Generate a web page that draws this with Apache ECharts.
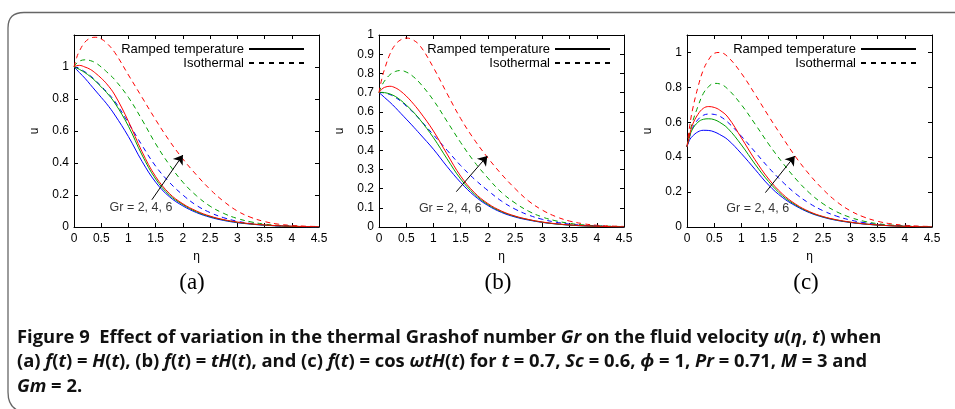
<!DOCTYPE html>
<html>
<head>
<meta charset="utf-8">
<script src="https://cdn.jsdelivr.net/npm/echarts@6/dist/echarts.min.js"></script>
<style>
  html, body { margin: 0; padding: 0; background: #fff; }
  #chart { width: 955px; height: 409px; }
</style>
</head>
<body>
<div id="chart"></div>
<script>
// eta sample points shared by all curves
const eta = [0, 0.05, 0.1, 0.2, 0.3, 0.4, 0.5, 0.6, 0.75, 1, 1.25, 1.5, 1.75, 2, 2.25, 2.5, 2.75, 3, 3.25, 3.5, 3.75, 4, 4.25, 4.5];

// (a) f(t) = H(t)
const aRampGr2 = [1.0, 0.983, 0.965, 0.93, 0.89, 0.85, 0.81, 0.77, 0.7, 0.565, 0.41, 0.28, 0.19, 0.132, 0.09, 0.061, 0.041, 0.027, 0.018, 0.011, 0.007, 0.004, 0.002, 0.001];
const aRampGr4 = [1.0, 0.993, 0.985, 0.965, 0.94, 0.91, 0.875, 0.84, 0.775, 0.63, 0.45, 0.3, 0.2, 0.14, 0.095, 0.065, 0.044, 0.029, 0.019, 0.012, 0.007, 0.004, 0.002, 0.001];
const aRampGr6 = [1.0, 1.008, 1.01, 1.0, 0.985, 0.96, 0.93, 0.895, 0.825, 0.66, 0.47, 0.315, 0.21, 0.145, 0.1, 0.068, 0.046, 0.031, 0.02, 0.013, 0.008, 0.005, 0.003, 0.002];
const aIsoGr2 = [1.0, 0.997, 0.99, 0.97, 0.945, 0.915, 0.88, 0.845, 0.785, 0.65, 0.51, 0.38, 0.28, 0.2, 0.135, 0.09, 0.058, 0.036, 0.022, 0.013, 0.007, 0.004, 0.002, 0.001];
const aIsoGr4 = [1.0, 1.025, 1.037, 1.045, 1.04, 1.025, 1.0, 0.97, 0.92, 0.81, 0.67, 0.52, 0.39, 0.28, 0.195, 0.13, 0.085, 0.053, 0.032, 0.018, 0.01, 0.006, 0.003, 0.002];
const aIsoGr6 = [1.0, 1.06, 1.1, 1.155, 1.18, 1.186, 1.175, 1.15, 1.09, 0.95, 0.81, 0.67, 0.54, 0.425, 0.325, 0.235, 0.16, 0.1, 0.06, 0.034, 0.018, 0.01, 0.005, 0.003];

// (b) f(t) = tH(t)
const bRampGr2 = [0.7, 0.688, 0.675, 0.65, 0.622, 0.592, 0.562, 0.532, 0.485, 0.405, 0.315, 0.232, 0.163, 0.112, 0.076, 0.052, 0.036, 0.024, 0.016, 0.01, 0.006, 0.004, 0.002, 0.001];
const bRampGr4 = [0.7, 0.701, 0.7, 0.693, 0.68, 0.66, 0.635, 0.608, 0.56, 0.465, 0.355, 0.25, 0.172, 0.117, 0.08, 0.055, 0.038, 0.025, 0.016, 0.01, 0.006, 0.004, 0.002, 0.001];
const bRampGr6 = [0.7, 0.717, 0.727, 0.733, 0.725, 0.707, 0.682, 0.652, 0.6, 0.5, 0.38, 0.265, 0.18, 0.122, 0.083, 0.057, 0.039, 0.026, 0.017, 0.011, 0.007, 0.004, 0.002, 0.001];
const bIsoGr2 = [0.7, 0.7, 0.698, 0.69, 0.675, 0.655, 0.63, 0.605, 0.56, 0.48, 0.4, 0.32, 0.25, 0.19, 0.135, 0.093, 0.062, 0.04, 0.025, 0.015, 0.009, 0.005, 0.003, 0.002];
const bIsoGr4 = [0.7, 0.735, 0.76, 0.793, 0.81, 0.815, 0.807, 0.79, 0.75, 0.66, 0.55, 0.44, 0.34, 0.255, 0.18, 0.125, 0.082, 0.052, 0.032, 0.019, 0.011, 0.006, 0.004, 0.002];
const bIsoGr6 = [0.7, 0.77, 0.82, 0.9, 0.95, 0.975, 0.984, 0.978, 0.945, 0.83, 0.695, 0.565, 0.455, 0.36, 0.275, 0.2, 0.135, 0.088, 0.054, 0.031, 0.017, 0.009, 0.005, 0.003];

// (c) f(t) = cos(wt)H(t)
const cRampGr2 = [0.46, 0.5, 0.52, 0.545, 0.554, 0.553, 0.545, 0.53, 0.5, 0.42, 0.33, 0.24, 0.17, 0.12, 0.082, 0.056, 0.038, 0.026, 0.017, 0.011, 0.007, 0.004, 0.002, 0.001];
const cRampGr4 = [0.46, 0.52, 0.56, 0.6, 0.617, 0.62, 0.615, 0.6, 0.565, 0.47, 0.36, 0.26, 0.18, 0.125, 0.085, 0.058, 0.04, 0.027, 0.018, 0.011, 0.007, 0.004, 0.002, 0.001];
const cRampGr6 = [0.46, 0.53, 0.585, 0.645, 0.68, 0.69, 0.685, 0.67, 0.63, 0.51, 0.385, 0.275, 0.19, 0.13, 0.088, 0.06, 0.041, 0.028, 0.018, 0.012, 0.007, 0.004, 0.002, 0.001];
const cIsoGr2 = [0.46, 0.52, 0.565, 0.615, 0.64, 0.647, 0.645, 0.635, 0.6, 0.52, 0.43, 0.34, 0.26, 0.19, 0.135, 0.093, 0.062, 0.04, 0.025, 0.015, 0.009, 0.005, 0.003, 0.002];
const cIsoGr4 = [0.46, 0.54, 0.6, 0.69, 0.765, 0.805, 0.823, 0.82, 0.79, 0.7, 0.59, 0.475, 0.37, 0.275, 0.195, 0.133, 0.087, 0.055, 0.033, 0.019, 0.011, 0.006, 0.003, 0.002];
const cIsoGr6 = [0.46, 0.58, 0.67, 0.8, 0.9, 0.96, 0.995, 1.0, 0.975, 0.88, 0.76, 0.635, 0.515, 0.4, 0.3, 0.215, 0.145, 0.093, 0.057, 0.033, 0.018, 0.01, 0.005, 0.003];

// arrow (from, to) and "Gr = 2, 4, 6" anchor, in data coords
const arrowA = [[1.43, 0.17], [2.0, 0.45]];
const arrowB = [[1.42, 0.184], [1.99, 0.37]];
const arrowC = [[1.44, 0.197], [1.98, 0.407]];
const labelA = [1.23, 0.119];
const labelB = [1.31, 0.098];
const labelC = [1.30, 0.107];

const grLabel = 'Gr = 2, 4, 6';
const legendNames = ['Ramped temperature', 'Isothermal'];
const panelLetters = ['(a)', '(b)', '(c)'];
const yMaxes = [1.2, 1.0, 1.1];
const ySteps = [0.2, 0.1, 0.2];

const panels = [
  { ramp: [aRampGr2, aRampGr4, aRampGr6], iso: [aIsoGr2, aIsoGr4, aIsoGr6], arrow: arrowA, label: labelA },
  { ramp: [bRampGr2, bRampGr4, bRampGr6], iso: [bIsoGr2, bIsoGr4, bIsoGr6], arrow: arrowB, label: labelB },
  { ramp: [cRampGr2, cRampGr4, cRampGr6], iso: [cIsoGr2, cIsoGr4, cIsoGr6], arrow: arrowC, label: labelC }
];

const colors = ['#0000ff', '#00a000', '#ff0000'];
const sans = '"Liberation Sans", Arial, Helvetica, sans-serif';
const gridLefts = [74, 379, 687];
const legendRights = [650, 344, 38];
const letterX = [192, 498, 806];

const pairs = ys => eta.map((x, i) => [x, ys[i]]);
const tickLabel = v => {
  const n = Number(v.toFixed(2));
  return n > 1.0001 ? '' : String(n);
};

const grid = [], xAxis = [], yAxis = [], series = [], legend = [];

panels.forEach((p, i) => {
  grid.push({ left: gridLefts[i], top: 35, width: 245, height: 192 });

  const common = {
    type: 'value',
    gridIndex: i,
    splitLine: { show: false },
    axisLine: { onZero: false, lineStyle: { color: '#000', width: 1 } },
    axisTick: { inside: true, length: 4, lineStyle: { color: '#000', width: 1 } }
  };
  xAxis.push(Object.assign({}, common, {
    position: 'bottom', min: 0, max: 4.5, interval: 0.5,
    axisLabel: { fontFamily: sans, fontSize: 12, color: '#000', margin: 6, showMinLabel: true, showMaxLabel: true },
    name: 'η', nameLocation: 'middle', nameGap: 24,
    nameTextStyle: { fontFamily: sans, fontSize: 12, color: '#000' }
  }));
  xAxis.push(Object.assign({}, common, {
    position: 'top', min: 0, max: 4.5, interval: 0.5, axisLabel: { show: false }
  }));
  yAxis.push(Object.assign({}, common, {
    position: 'left', min: 0, max: yMaxes[i], interval: ySteps[i],
    axisLabel: { fontFamily: sans, fontSize: 12, color: '#000', margin: 5, formatter: tickLabel },
    name: 'u', nameLocation: 'middle', nameGap: 33, nameRotate: 90,
    nameTextStyle: { fontFamily: sans, fontSize: 12, color: '#000' }
  }));
  yAxis.push(Object.assign({}, common, {
    position: 'right', min: 0, max: yMaxes[i], interval: ySteps[i], axisLabel: { show: false }
  }));

  for (let k = 0; k < 3; k++) {
    series.push({
      type: 'line', name: 'ramp' + i + k, xAxisIndex: 2 * i, yAxisIndex: 2 * i,
      data: pairs(p.ramp[k]), smooth: 0.4, symbol: 'none',
      lineStyle: { color: colors[k], width: 1 }, z: 3
    });
    series.push({
      type: 'line', name: 'iso' + i + k, xAxisIndex: 2 * i, yAxisIndex: 2 * i,
      data: pairs(p.iso[k]), smooth: 0.4, symbol: 'none',
      lineStyle: { color: colors[k], width: 1, type: [5, 4] }, z: 2
    });
  }

  // annotation: arrow + "Gr = 2, 4, 6"
  series.push({
    type: 'scatter', name: 'note' + i, xAxisIndex: 2 * i, yAxisIndex: 2 * i,
    data: [p.label], symbolSize: 1, itemStyle: { color: 'rgba(0,0,0,0)' }, silent: true,
    label: { show: true, position: 'inside', formatter: grLabel, color: '#000', fontFamily: sans, fontSize: 12.5 },
    markLine: {
      silent: true, symbol: ['none', 'arrow'], symbolSize: 9,
      lineStyle: { color: '#000', width: 1, type: 'solid' }, label: { show: false },
      data: [[{ coord: p.arrow[0] }, { coord: p.arrow[1] }]]
    }, z: 5
  });

  legend.push({
    data: legendNames, orient: 'vertical', align: 'right', right: legendRights[i], top: 42,
    itemWidth: 55, itemHeight: 14, itemGap: 0, padding: 0, selectedMode: false,
    itemStyle: { color: 'rgba(0,0,0,0)', borderWidth: 0, opacity: 0 },
    textStyle: { fontFamily: sans, fontSize: 13, color: '#000', lineHeight: 14 }
  });
});

// legend keys
series.push({ type: 'line', name: legendNames[0], xAxisIndex: 0, yAxisIndex: 0, data: [], symbol: 'none', symbolSize: 0,
  color: '#000', lineStyle: { color: '#000', width: 1 } });
series.push({ type: 'line', name: legendNames[1], xAxisIndex: 0, yAxisIndex: 0, data: [], symbol: 'none', symbolSize: 0,
  color: '#000', lineStyle: { color: '#000', width: 1, type: [5, 5] } });

// caption lines
const capFamily = '"Open Sans", "Noto Sans", sans-serif';
const capLines = [
  'Figure 9  Effect of variation in the thermal Grashof number {i|Gr} on the fluid velocity {i|u}({i|η}, {i|t}) when',
  '(a) {i|f}({i|t}) = {i|H}({i|t}), (b) {i|f}({i|t}) = {i|tH}({i|t}), and (c) {i|f}({i|t}) = cos {i|ωtH}({i|t}) for {i|t} = 0.7, {i|Sc} = 0.6, {i|ϕ} = 1, {i|Pr} = 0.71, {i|M} = 3 and',
  '{i|Gm} = 2.'
];
// fit first caption line to its width in the figure
const ctx = document.createElement('canvas').getContext('2d');
ctx.font = 'bold 100px ' + capFamily;
const plain = capLines[0].replace(/\{i\|([^}]*)\}/g, '$1');
const capSize = Math.round(868 / ctx.measureText(plain).width * 1000) / 10;

const frameStyle = { stroke: '#666', lineWidth: 1.3, fill: null };
const graphic = [
  { type: 'line', silent: true, shape: { x1: 8, y1: 28, x2: 8, y2: 392 }, style: frameStyle },
  { type: 'bezierCurve', silent: true, shape: { x1: 8, y1: 28, cpx1: 8, cpy1: 12.5, x2: 24, y2: 12.5 }, style: frameStyle },
  { type: 'line', silent: true, shape: { x1: 24, y1: 12.5, x2: 956, y2: 12.5 }, style: frameStyle },
  { type: 'bezierCurve', silent: true, shape: { x1: 8, y1: 392, cpx1: 8, cpy1: 410, x2: 24, y2: 412 }, style: frameStyle }
];
panelLetters.forEach((t, i) => {
  graphic.push({
    type: 'text', x: letterX[i], y: 283, silent: true,
    style: { text: t, font: '23px "Liberation Serif", "Times New Roman", serif', fill: '#000', align: 'center', verticalAlign: 'middle' }
  });
});
[338, 362, 387].forEach((y, j) => {
  graphic.push({
    type: 'text', x: 17, y: y, silent: true,
    style: {
      text: capLines[j], font: 'bold ' + capSize + 'px ' + capFamily, fill: '#111', verticalAlign: 'middle',
      rich: { i: { fontStyle: 'italic', fontWeight: 'bold', fontSize: capSize, fontFamily: capFamily, fill: '#111' } }
    }
  });
});

const chart = echarts.init(document.getElementById('chart'));
chart.setOption({
  animation: false,
  backgroundColor: '#fff',
  grid, xAxis, yAxis, series, legend, graphic
});
</script>
</body>
</html>
